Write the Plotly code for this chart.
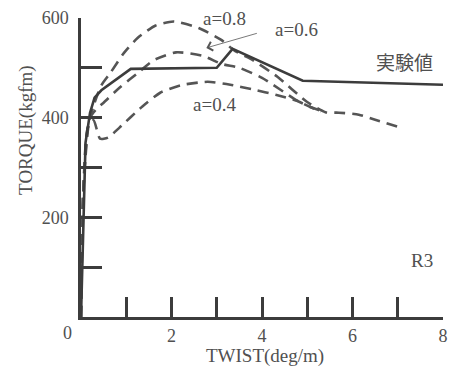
import plotly.graph_objects as go

# Experimental (solid) curve
exp_x = [0.0, 0.05, 0.1, 0.2, 0.3, 0.45, 1.1, 3.0, 3.35, 4.9, 8.0]
exp_y = [0, 200, 350, 410, 440, 455, 498, 500, 538, 474, 466]

# a=0.8 (dashed)
a08_x = [0.0, 0.05, 0.15, 0.3, 0.45, 0.65, 0.95, 1.25, 1.65, 2.05, 2.6, 3.1, 3.4, 3.75, 4.34, 4.99, 5.4, 5.7, 6.14, 6.5, 7.06]
a08_y = [0, 250, 380, 430, 465, 490, 530, 560, 585, 593, 580, 556, 534, 518, 482, 432, 411, 410, 406, 396, 380]

# a=0.6 (dashed)
a06_x = [0.0, 0.05, 0.2, 0.35, 0.5, 0.85, 1.3, 1.6, 2.1, 2.7, 3.1, 3.5, 4.0, 4.8, 5.3]
a06_y = [0, 250, 400, 418, 430, 460, 493, 515, 531, 524, 508, 500, 480, 433, 412]

# a=0.4 (dashed)
a04_x = [0.0, 0.05, 0.15, 0.28, 0.42, 0.6, 0.85, 1.35, 1.75, 2.2, 2.8, 3.3, 3.83, 4.3, 4.77, 5.05, 5.36]
a04_y = [0, 250, 380, 395, 358, 360, 380, 422, 450, 465, 472, 466, 456, 446, 434, 422, 412]

x_tickvals = [1, 2, 3, 4, 5, 6, 7, 8]
x_ticktext = ["", "2", "", "4", "", "6", "", "8"]
y_tickvals = [100, 200, 300, 400, 500, 600]
y_ticktext = ["", "200", "", "400", "", "600"]

INK = "#3c3c3c"
TXT = "#505050"
SERIF = "Liberation Serif, Times New Roman, serif"

fig = go.Figure()
dash = "11px,7px"
for xs, ys in [(a08_x, a08_y), (a06_x, a06_y), (a04_x, a04_y)]:
    fig.add_trace(go.Scatter(x=xs, y=ys, mode="lines",
                             line=dict(color="#555555", width=2.6, dash=dash,
                                       shape="spline", smoothing=0.6),
                             showlegend=False, hoverinfo="skip"))
fig.add_trace(go.Scatter(x=exp_x, y=exp_y, mode="lines",
                         line=dict(color=INK, width=2.6),
                         showlegend=False, hoverinfo="skip"))

fig.update_layout(
    width=455, height=368,
    margin=dict(l=81, r=7, t=18, b=51),
    paper_bgcolor="white", plot_bgcolor="white",
    font=dict(family=SERIF, size=19, color=TXT),
    xaxis=dict(range=[0, 8], tickvals=x_tickvals, ticktext=x_ticktext,
               ticks="inside", ticklen=20, tickwidth=2.5, tickcolor=INK,
               showline=True, linecolor=INK, linewidth=2.5,
               showgrid=False, zeroline=False, ticklabelstandoff=1,
               tickfont=dict(size=18)),
    yaxis=dict(range=[0, 600], tickvals=y_tickvals, ticktext=y_ticktext,
               ticks="inside", ticklen=21, tickwidth=2.5, tickcolor=INK,
               showline=True, linecolor=INK, linewidth=2.5,
               showgrid=False, zeroline=False, ticklabelstandoff=6,
               tickfont=dict(size=18)),
)

annotations = [
    dict(text="0", xref="paper", yref="paper", x=-0.038, y=-0.0535,
         showarrow=False, xanchor="center", yanchor="middle",
         font=dict(size=18)),
    dict(text="TWIST(deg/m)", xref="paper", yref="paper", x=0.507, y=-0.13,
         showarrow=False, xanchor="center", yanchor="middle"),
    dict(text="TORQUE(kgfm)", xref="paper", yref="paper", x=-0.1526, y=0.625,
         showarrow=False, textangle=-90, xanchor="center", yanchor="middle"),
    dict(text="R3", xref="x", yref="y", x=7.54, y=114, showarrow=False,
         xanchor="center", yanchor="middle"),
    dict(text="実験値", xref="x", yref="y", x=7.15, y=512, showarrow=False,
         xanchor="center", yanchor="middle",
         font=dict(family="Noto Sans CJK JP", size=19, color=TXT)),
    dict(text="a=0.8", xref="x", yref="y", x=3.18, y=600, showarrow=False,
         xanchor="center", yanchor="middle"),
    dict(text="a=0.6", xref="x", yref="y", x=4.77, y=576, showarrow=False,
         xanchor="center", yanchor="middle"),
    dict(text="a=0.4", xref="x", yref="y", x=2.94, y=426, showarrow=False,
         xanchor="center", yanchor="middle"),
    dict(text="", xref="x", yref="y", x=2.77, y=540, showarrow=True,
         ax=52, ay=-15, arrowhead=4, arrowsize=2.2, arrowwidth=0.8,
         arrowcolor="#555555"),
]
fig.update_layout(annotations=annotations)

fig.write_html("out.html", config={"displayModeBar": False},
               post_script="document.body.style.margin='0';document.body.style.padding='0';")
